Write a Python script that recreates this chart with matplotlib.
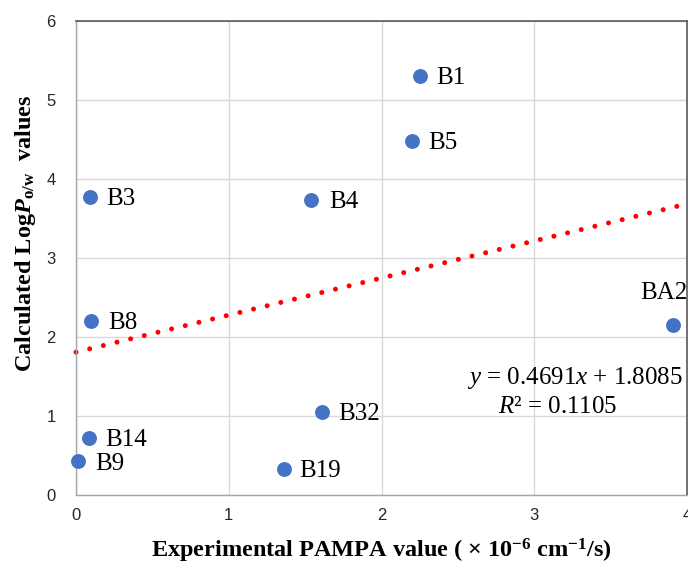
import matplotlib
matplotlib.use("Agg")
import matplotlib.pyplot as plt
import numpy as np

serif = "Liberation Serif"
sans = "Liberation Sans"

plt.rcParams["mathtext.fontset"] = "custom"
plt.rcParams["mathtext.it"] = "Liberation Serif:italic"
plt.rcParams["mathtext.rm"] = "Liberation Serif"
plt.rcParams["mathtext.bf"] = "Liberation Serif:bold"
plt.rcParams["mathtext.bfit"] = "Liberation Serif:bold:italic"
plt.rcParams["mathtext.default"] = "regular"

# Compounds: experimental PAMPA permeability vs calculated LogP
labels = ["B1", "B5", "B3", "B4", "B8", "BA2", "B32", "B14", "B9", "B19"]
pampa = [2.25, 2.20, 0.09, 1.54, 0.10, 3.91, 1.61, 0.085, 0.01, 1.36]
logp = [5.30, 4.48, 3.77, 3.73, 2.20, 2.15, 1.05, 0.72, 0.43, 0.33]

# Linear fit reported on the chart
slope = 0.4691
intercept = 1.8085
r_squared = 0.1105

# Label offsets in points (dx, dy) and horizontal alignment
label_offsets = {
    "B1": (12, -1.5, "left"),
    "B5": (12, -1.5, "left"),
    "B3": (12, -1.5, "left"),
    "B4": (13, -1.5, "left"),
    "B8": (12, -1.5, "left"),
    "BA2": (10, 23, "right"),
    "B32": (11.5, -1.5, "left"),
    "B14": (12, -1.5, "left"),
    "B9": (13, -2, "left"),
    "B19": (11.5, -1.5, "left"),
}

fig = plt.figure(figsize=(6.88, 5.66), dpi=100)
ax = fig.add_axes([76 / 688, 71 / 566, 611 / 688, 474 / 566])

ax.set_xlim(0, 4)
ax.set_ylim(0, 6)
ax.set_xticks([0, 1, 2, 3, 4])
ax.set_yticks([0, 1, 2, 3, 4, 5, 6])
ax.grid(True, color="#d9d9d9", linewidth=1.0)
ax.set_axisbelow(True)

for side in ("left", "bottom"):
    ax.spines[side].set_color("#a6a6a6")
    ax.spines[side].set_linewidth(1.0)
for side in ("top", "right"):
    ax.spines[side].set_color("#595959")
    ax.spines[side].set_linewidth(1.2)

ax.tick_params(axis="both", length=0, labelsize=12, labelcolor="#262626")
ax.tick_params(axis="y", pad=14.5)
ax.tick_params(axis="x", pad=9)
for t in ax.get_xticklabels() + ax.get_yticklabels():
    t.set_fontfamily(sans)

# Trend line
xs = np.array([0.0, 4.0])
ax.plot(xs, slope * xs + intercept, color="#ff0000", linewidth=3.6,
        linestyle=(0, (0.01, 2.8)), dash_capstyle="round", zorder=2,
        clip_on=False)

# Points
ax.scatter(pampa, logp, s=115, color="#4472c4", zorder=3, clip_on=False,
           linewidths=0)

for name, x, y in zip(labels, pampa, logp):
    dx, dy, ha = label_offsets[name]
    ax.annotate(name, (x, y), xytext=(dx, dy), textcoords="offset points",
                ha=ha, va="center", fontsize=18, fontfamily=serif,
                color="black", annotation_clip=False)

# Regression equation
ax.text(3.975, 1.48, r"$\mathit{y}$ = 0.4691$\mathit{x}$ + 1.8085", ha="right",
        va="center", fontsize=18, fontfamily=serif)
ax.text(3.15, 1.12, r"$\mathit{R}$² = 0.1105", ha="center", va="center",
        fontsize=18, fontfamily=serif)

ax.set_ylabel(r"Calculated Log$\mathbfit{P}_{\mathbf{o/w}}$  values",
              fontsize=17.5, fontweight="bold", fontfamily=serif)
ax.yaxis.set_label_coords(-0.062, 0.553)
ax.set_xlabel(r"Experimental PAMPA value ( × 10$^{\mathbf{-6}}$ cm$^{\mathbf{-1}}$/s)",
              fontsize=17.5, fontweight="bold", fontfamily=serif)
ax.xaxis.set_label_coords(0.5, -0.088)

fig.savefig("out.png", dpi=100)
